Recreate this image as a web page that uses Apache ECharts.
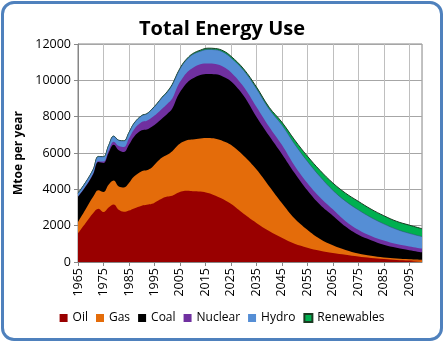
<!DOCTYPE html>
<html>
<head>
<meta charset="utf-8">
<script src="https://cdn.jsdelivr.net/npm/echarts@6/dist/echarts.min.js"></script>
<style>
  html, body { margin: 0; padding: 0; background: #fff; }
  #wrap { position: relative; width: 444px; height: 342px; }
  #chart { position: absolute; left: 0; top: 0; width: 444px; height: 342px; }
  #frame { position: absolute; left: 1px; top: 1px; width: 436px; height: 334px;
           border: 3px solid #4F81BD; border-radius: 13px; pointer-events: none; z-index: 5; }
</style>
</head>
<body>
<div id="wrap"><div id="chart"></div><div id="frame"></div></div>
<script>
// ---- data ----
const title = 'Total Energy Use';
const yAxisName = 'Mtoe per year';
const seriesNames = ['Oil', 'Gas', 'Coal', 'Nuclear', 'Hydro', 'Renewables'];
const years = [1965, 1968, 1971, 1973, 1975, 1977, 1979, 1981, 1983, 1985, 1987, 1990, 1992, 1994, 1996, 1998,
  2000, 2002, 2004, 2006, 2008, 2010, 2013, 2016, 2019, 2022, 2025, 2030, 2035, 2040, 2045, 2050,
  2055, 2060, 2065, 2070, 2075, 2080, 2085, 2090, 2095, 2100];
const oil = [1580, 2150, 2700, 2930, 2750, 3000, 3170, 2870, 2760, 2830, 2950, 3100, 3150, 3200, 3350, 3500,
  3600, 3650, 3800, 3900, 3920, 3900, 3880, 3800, 3650, 3450, 3200, 2650, 2150, 1700, 1330, 1000,
  790, 620, 500, 400, 300, 220, 160, 110, 80, 60];
const gas = [620, 750, 900, 1020, 1100, 1250, 1310, 1280, 1340, 1520, 1750, 1900, 1900, 2000, 2150, 2250,
  2300, 2450, 2600, 2700, 2800, 2850, 2920, 3020, 3130, 3200, 3250, 3200, 2950, 2470, 1920, 1400,
  990, 650, 420, 260, 170, 120, 90, 80, 70, 60];
const coal = [1380, 1250, 1250, 1550, 1600, 1750, 1970, 2000, 1950, 2100, 2200, 2250, 2250, 2250, 2150, 2150,
  2250, 2350, 2700, 2950, 3180, 3350, 3500, 3530, 3550, 3550, 3500, 3300, 2900, 2780, 2700, 2500,
  2170, 1880, 1630, 1290, 1030, 860, 700, 590, 500, 410];
const nuclear = [10, 15, 20, 50, 80, 120, 170, 230, 280, 350, 400, 450, 480, 500, 520, 530,
  550, 550, 550, 560, 570, 580, 580, 570, 570, 550, 500, 500, 550, 500, 500, 400,
  400, 400, 350, 300, 280, 230, 230, 210, 210, 210];
const hydro = [190, 215, 230, 250, 260, 280, 300, 310, 330, 320, 330, 350, 370, 450, 530, 620,
  650, 750, 700, 740, 720, 740, 720, 780, 780, 800, 800, 900, 1000, 970, 1100, 1200,
  1200, 1150, 1050, 1100, 1090, 1020, 920, 810, 720, 660];
const renewables = [10, 10, 10, 10, 10, 10, 10, 10, 10, 10, 10, 15, 15, 15, 20, 20,
  25, 30, 35, 40, 40, 50, 60, 70, 70, 75, 80, 80, 90, 100, 150, 220,
  280, 340, 400, 440, 470, 460, 450, 440, 450, 430];
const firstYear = 1965, lastYear = 2100;
const yMax = 12000, yStep = 2000, xStep = 10;

const values = [oil, gas, coal, nuclear, hydro, renewables];
const colors = ['#990000', '#E46C0A', '#000000', '#7030A0', '#558ED5', '#00B050'];

// Stacked layers: each layer is drawn from the axis up to the running total,
// with later (upper) layers painted behind earlier ones.
const running = years.map(() => 0);
const layers = values.map(arr => arr.map((v, i) => (running[i] += v)));

const chart = echarts.init(document.getElementById('chart'), null, { renderer: 'canvas' });
const FONT = 'Open Sans';
const EDGE = '#1b3a22';

const series = seriesNames.map((name, k) => ({
  name: name,
  type: 'line',
  symbol: 'none',
  showSymbol: false,
  smooth: 0.4,
  data: years.map((y, i) => [y - firstYear, layers[k][i]]),
  lineStyle: k === 5 ? { width: 1, color: EDGE } : (k === 4 ? { width: 0.5, color: '#2a4a6a' } : { width: 0 }),
  itemStyle: { color: colors[k], borderColor: k === 5 ? EDGE : colors[k], borderWidth: k === 5 ? 1 : 0 },
  areaStyle: { color: colors[k], opacity: 1, origin: 'start' },
  z: 10 - k
}));

chart.setOption({
  animation: false,
  backgroundColor: '#ffffff',
  textStyle: { fontFamily: FONT },
  title: {
    text: title,
    left: 'center',
    top: 14,
    textStyle: { fontFamily: FONT, fontWeight: 'bold', fontSize: 20, color: '#000' }
  },
  legend: {
    data: seriesNames,
    bottom: 13,
    left: 'center',
    itemWidth: 8,
    itemHeight: 8,
    itemGap: 8,
    icon: 'rect',
    textStyle: { fontFamily: FONT, fontSize: 12, color: '#000' }
  },
  grid: { left: 78, right: 22, top: 44, bottom: 80, containLabel: false, show: true, borderColor: '#868686', borderWidth: 1 },
  xAxis: {
    type: 'value',
    min: 0,
    max: lastYear - firstYear,
    interval: xStep,
    axisLine: { show: true, onZero: false, lineStyle: { color: '#868686' } },
    axisTick: { show: true, length: 4, inside: false, lineStyle: { color: '#868686' } },
    axisLabel: {
      rotate: 90,
      formatter: v => String(v + firstYear),
      showMaxLabel: false,
      margin: 6,
      fontFamily: FONT,
      fontSize: 12.5,
      color: '#000'
    },
    splitLine: { show: true, lineStyle: { color: '#BFBFBF', width: 1 } }
  },
  yAxis: {
    type: 'value',
    min: 0,
    max: yMax,
    interval: yStep,
    name: yAxisName,
    nameLocation: 'middle',
    nameRotate: 90,
    nameGap: 38,
    nameTextStyle: { fontFamily: FONT, fontWeight: 'bold', fontSize: 12, color: '#000' },
    axisLine: { show: true, lineStyle: { color: '#868686' } },
    axisTick: { show: true, length: 4, lineStyle: { color: '#868686' } },
    axisLabel: { fontFamily: FONT, fontSize: 12.5, color: '#000', margin: 7, formatter: v => String(v) },
    splitLine: { show: true, lineStyle: { color: '#A6A6A6', width: 1 } }
  },
  series: series
});
</script>
</body>
</html>
